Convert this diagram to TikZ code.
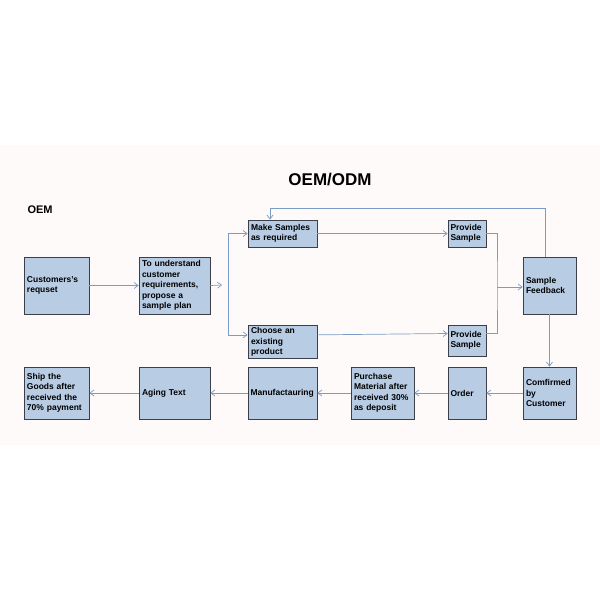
\documentclass[tikz,border=0pt]{standalone}
\usepackage{fontspec}
\setmainfont{Liberation Sans}
\usetikzlibrary{arrows.meta}
\definecolor{boxfill}{HTML}{B8CCE4}
\definecolor{boxline}{HTML}{3A3F4A}
\definecolor{conn}{HTML}{7A9CC6}
\begin{document}
\begin{tikzpicture}[x=1pt,y=-1pt,
  box/.style={draw=boxline,fill=boxfill,line width=0.8pt,inner sep=2pt,align=left,font=\bfseries\fontsize{8.5}{10.5}\selectfont,anchor=center},
  conn/.style={draw=conn,line width=0.7pt},
  arr/.style={conn,-{Straight Barb[length=4pt,width=6pt]}}]
\useasboundingbox (0,0) rectangle (600,600);
\fill[white] (0,0) rectangle (600,600);
\fill[red!2] (0,145) rectangle (600,445);
\node[font=\bfseries\fontsize{17}{20}\selectfont] (title) at (330,180) {OEM/ODM};
\node[font=\bfseries\fontsize{11}{13}\selectfont,anchor=west] (oem) at (24,210) {OEM};
% nodes
\node[box,minimum width=65,minimum height=57,text width=59] (cr) at (56.5,285.5) {Customers's\\requset};
\node[box,minimum width=71,minimum height=57,text width=65] (tu) at (174.5,285.5) {To understand\\customer\\requirements,\\propose a\\sample plan};
\node[box,minimum width=69,minimum height=27,text width=63] (ms) at (282.5,233.5) {Make Samples\\as required};
\node[box,minimum width=69,minimum height=31,text width=63,anchor=north] (ch) at (282.5,325) {Choose an\\existing\\product};
\node[box,minimum width=38,minimum height=27,text width=33] (p1) at (467,233.5) {Provide\\Sample};
\node[box,minimum width=38,minimum height=31,text width=33] (p2) at (467,340.5) {Provide\\Sample};
\node[box,minimum width=53,minimum height=57,text width=47] (sf) at (549.5,285.5) {Sample\\Feedback};
\node[box,minimum width=53,minimum height=52,text width=47] (cc) at (549.5,393) {Comfirmed\\by\\Customer};
\node[box,minimum width=38,minimum height=52,text width=33] (od) at (467,393) {Order};
\node[box,minimum width=63,minimum height=52,text width=57] (pm) at (382.5,393) {Purchase\\Material after\\received 30\%\\as deposit};
\node[box,minimum width=69,minimum height=52,text width=64] (mf) at (282.5,393) {Manufactauring};
\node[box,minimum width=71,minimum height=52,text width=65] (ag) at (174.5,393) {Aging Text};
\node[box,minimum width=65,minimum height=52,text width=59] (sh) at (56.5,393) {Ship the\\Goods after\\received the\\70\% payment};
% connectors
\coordinate (br) at (222,285);
\coordinate (bx) at (228,285);
\coordinate (jx) at (497,287);
\coordinate (fb) at (545,208);
\draw[arr] (cr.east) -- (tu.west);
\draw[arr] (tu.east) -- (br);
\draw[arr] (bx) |- (ms.west);
\draw[arr] (bx) |- ([yshift=7]ch.west);
\draw[arr] (ms.east) -- (p1.west);
\draw[arr] ([yshift=7]ch.east) -- ([yshift=7]p2.west);
\draw[conn] (p1.east) -| (jx) |- ([yshift=7]p2.east);
\draw[arr] (jx) -- (sf.west |- jx);
\draw[arr] (sf.north -| fb) -- (fb) -| ([xshift=-12.5]ms.north);
\draw[arr] (sf.south) -- (cc.north);
\draw[arr] (cc.west) -- (od.east);
\draw[arr] (od.west) -- (pm.east);
\draw[arr] (pm.west) -- (mf.east);
\draw[arr] (mf.west) -- (ag.east);
\draw[arr] (ag.west) -- (sh.east);
\end{tikzpicture}
\end{document}
